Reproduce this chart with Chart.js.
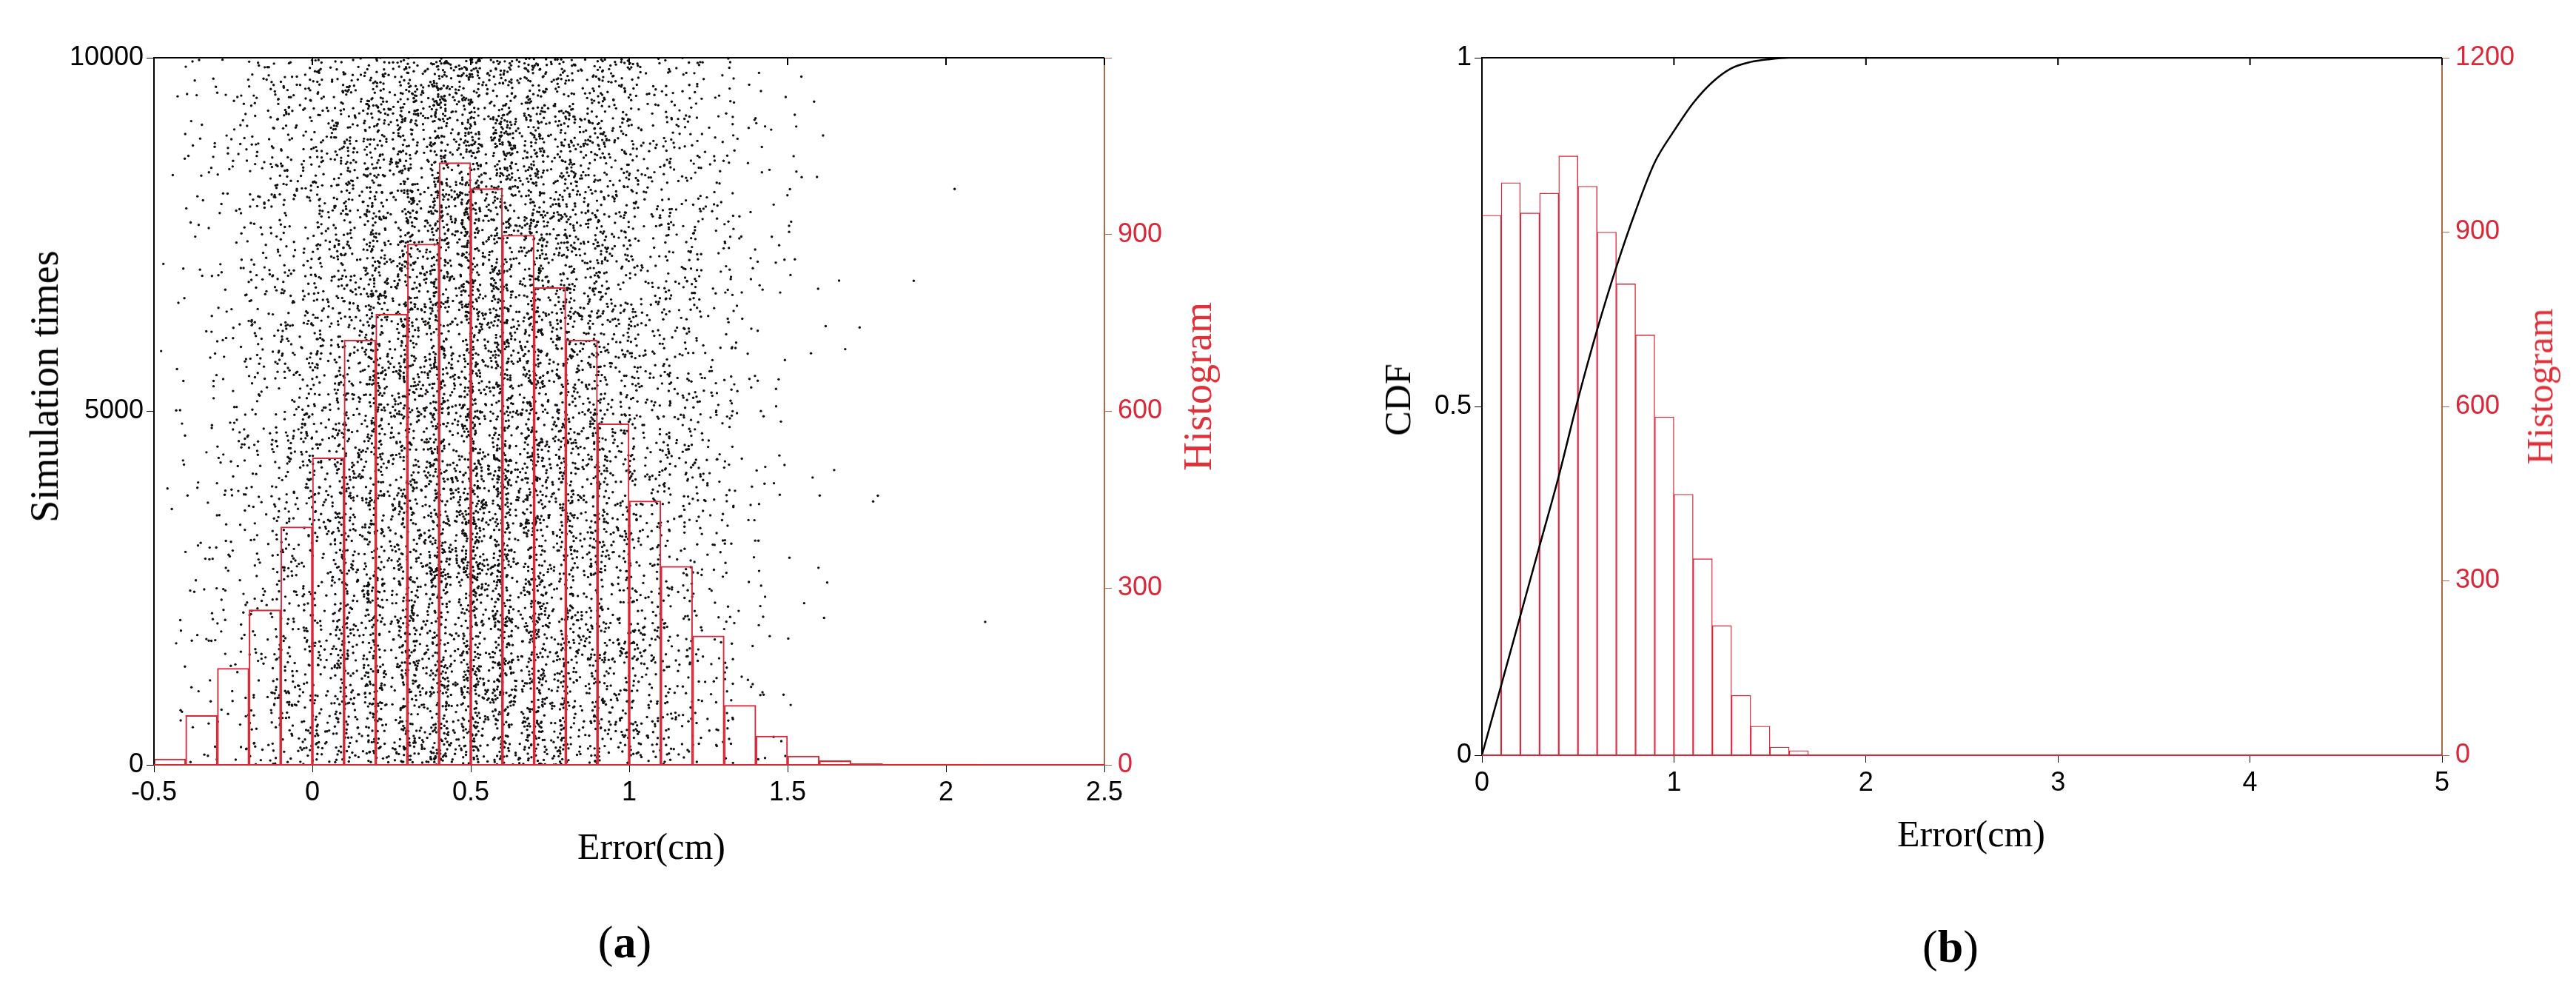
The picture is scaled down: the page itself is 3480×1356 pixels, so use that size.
<!DOCTYPE html>
<html>
<head>
<meta charset="utf-8">
<script src="https://cdn.jsdelivr.net/npm/chart.js@4.4.0/dist/chart.umd.min.js"></script>
<style>
  body { margin: 0; background: #fff; width: 3480px; height: 1356px; position: relative; overflow: hidden; }
  .cv { position: absolute; top: 0; }
  .t { position: absolute; font-family: "Liberation Serif", serif; white-space: nowrap; transform: translate(-50%, -50%); }
  .rot { transform: translate(-50%, -50%) rotate(-90deg); }
</style>
</head>
<body>
<div class="cv" style="left:0;width:1700px;height:1180px"><canvas id="ca"></canvas></div>
<div class="cv" style="left:1750px;width:1730px;height:1180px"><canvas id="cb"></canvas></div>
<div class="t rot" style="left:60px;top:522px;font-size:54px">Simulation times</div>
<div class="t rot" style="left:1618px;top:522px;font-size:54px;color:#e0303a">Histogram</div>
<div class="t" style="left:880px;top:1143px;font-size:50px">Error(cm)</div>
<div class="t" style="left:844px;top:1272px;font-size:62px">(<b>a</b>)</div>
<div class="t rot" style="left:1888px;top:540px;font-size:50px">CDF</div>
<div class="t rot" style="left:3431px;top:522px;font-size:50px;color:#e0303a">Histogram</div>
<div class="t" style="left:2663px;top:1126px;font-size:50px">Error(cm)</div>
<div class="t" style="left:2635px;top:1278px;font-size:62px">(<b>b</b>)</div>
<script>
// panel (a): histogram of the 10000 simulated errors, bins of 0.1 cm starting at -0.5
const binStartA = -0.5;
const histA = [10, 84, 164, 263, 404, 521, 721, 765, 884, 1022, 978, 899, 810, 721, 579, 448, 337, 219, 101, 49, 15, 7, 2, 1, 1, 1];
// panel (b): histogram of absolute errors, bins of 0.1 cm starting at 0
const binStartB = 0;
const histB = [929, 985, 933, 967, 1031, 979, 900, 811, 723, 582, 449, 338, 223, 103, 50, 14, 8];
// CDF
const cdfX = [0, 0.1, 0.2, 0.3, 0.4, 0.5, 0.6, 0.7, 0.8, 0.9, 1.0, 1.1, 1.2, 1.3, 1.4, 1.5, 1.6, 1.8, 5];
const cdfY = [0, 0.1, 0.2, 0.3, 0.4, 0.51, 0.61, 0.7, 0.78, 0.85, 0.895, 0.935, 0.965, 0.985, 0.994, 0.998, 1, 1, 1];

const RED = "#d8283a";
const BROWN = "#a86a48";
const tickFont = { family: "Liberation Sans", size: 36 };

// scatter samples: one point per counted sample, spread across its bin
function frac(v) { return v - Math.floor(v); }
const scatterA = [];
histA.forEach((c, i) => {
  for (let j = 0; j < c; j++) {
    const k = scatterA.length;
    // spread a little beyond the bin edges, as the raw samples do
    scatterA.push({
      x: binStartA + i * 0.1 + (frac(Math.sin(k * 12.9898) * 43758.5453) * 1.6 - 0.3) * 0.1,
      y: frac(Math.sin(k * 78.233 + 1.7) * 24634.6345) * 10000,
    });
  }
});

const barsA = histA.map((v, i) => ({ x: binStartA + i * 0.1 + 0.05, y: v }));
const barsB = histB.map((v, i) => ({ x: binStartB + i * 0.1 + 0.05, y: v }));
const cdf = cdfX.map((x, i) => ({ x: x, y: cdfY[i] }));

const frame = {
  id: "frame",
  afterDatasetsDraw(chart) {
    const { ctx, chartArea: a } = chart;
    ctx.save();
    ctx.strokeStyle = "#000";
    ctx.lineWidth = 2;
    ctx.beginPath();
    ctx.moveTo(a.left, a.bottom); ctx.lineTo(a.left, a.top); ctx.lineTo(a.right, a.top);
    ctx.stroke();
    ctx.strokeStyle = BROWN;
    ctx.beginPath(); ctx.moveTo(a.right, a.top); ctx.lineTo(a.right, a.bottom); ctx.stroke();
    ctx.strokeStyle = RED;
    ctx.beginPath(); ctx.moveTo(a.left, a.bottom); ctx.lineTo(a.right, a.bottom); ctx.stroke();
    // top ticks mirroring the x axis
    ctx.strokeStyle = "#000";
    const xs = chart.scales.x;
    xs.ticks.forEach((t) => {
      const px = xs.getPixelForValue(t.value);
      ctx.beginPath(); ctx.moveTo(px, a.top); ctx.lineTo(px, a.top + 10); ctx.stroke();
    });
    ctx.restore();
  },
};

function fit(w, h) {
  return (s) => { if (w != null) s.width = w; if (h != null) s.height = h; };
}

function axes(xmin, xmax, xstep, ymax, ystep, leftW, rightW, botH, showTop) {
  return {
    x: {
      type: "linear", min: xmin, max: xmax, offset: false, afterFit: fit(null, botH),
      border: { display: false },
      grid: { drawOnChartArea: false, tickLength: 10, color: "#000", offset: false },
      ticks: { stepSize: xstep, font: tickFont, color: "#000", padding: 6, maxRotation: 0,
        callback: (v) => String(Math.round(v * 10) / 10) },
    },
    y: {
      position: "left", min: 0, max: ymax, afterFit: fit(leftW, null),
      border: { display: false },
      grid: { drawOnChartArea: false, tickLength: 10, color: "#000" },
      ticks: { stepSize: ystep, font: tickFont, color: "#000", padding: 4,
        callback: (v) => String(v) },
    },
    y2: {
      position: "right", min: 0, max: 1200, afterFit: fit(rightW, null),
      border: { display: false },
      grid: { drawOnChartArea: false, tickLength: 10, color: BROWN },
      ticks: { stepSize: 300, font: tickFont, color: RED, padding: 8,
        callback: (v) => (v === 1200 && !showTop ? "" : String(v)) },
    },
  };
}

new Chart(document.getElementById("ca"), {
  type: "bar",
  data: {
    datasets: [
      { type: "bar", data: barsA, yAxisID: "y2", backgroundColor: "rgba(0,0,0,0)",
        borderColor: RED, borderWidth: 1.4, barPercentage: 1, categoryPercentage: 1, grouped: false, order: 0 },
      { type: "scatter", data: scatterA, yAxisID: "y", pointRadius: 1.7, pointBorderWidth: 0,
        backgroundColor: "#111", order: 1 },
    ],
  },
  options: {
    responsive: true, maintainAspectRatio: false, animation: false,
    layout: { padding: { top: 78, left: 0, right: 0, bottom: 0 } },
    plugins: { legend: { display: false }, tooltip: { enabled: false } },
    scales: axes(-0.5, 2.5, 0.5, 10000, 5000, 208, 208, 147, false),
  },
  plugins: [frame],
});

new Chart(document.getElementById("cb"), {
  type: "bar",
  data: {
    datasets: [
      { type: "bar", data: barsB, yAxisID: "y2", backgroundColor: "#fff",
        borderColor: RED, borderWidth: 1.4, barPercentage: 1, categoryPercentage: 1, grouped: false, order: 1 },
      { type: "line", data: cdf, yAxisID: "y", borderColor: "#000", borderWidth: 2.5,
        pointRadius: 0, cubicInterpolationMode: "monotone", order: 0 },
    ],
  },
  options: {
    responsive: true, maintainAspectRatio: false, animation: false,
    layout: { padding: { top: 78, left: 0, right: 0, bottom: 0 } },
    plugins: { legend: { display: false }, tooltip: { enabled: false } },
    scales: axes(0, 5, 1, 1, 0.5, 252, 181, 160, true),
  },
  plugins: [frame],
});
</script>
</body>
</html>
